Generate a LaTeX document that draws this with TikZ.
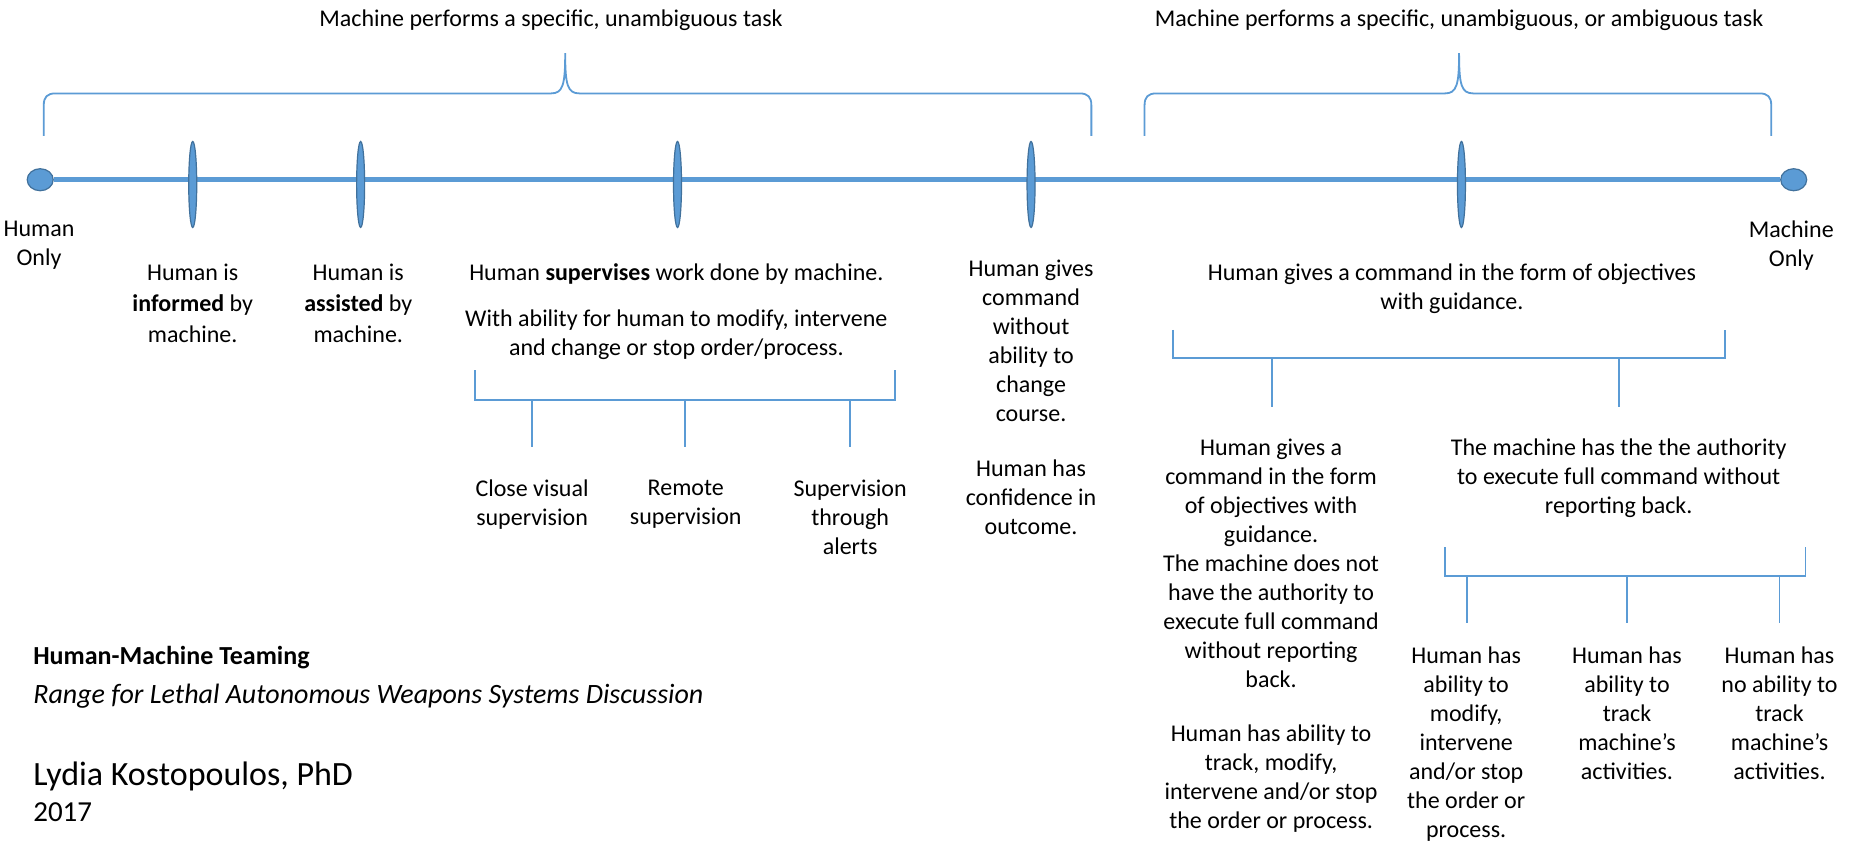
\documentclass[tikz,border=0pt]{standalone}
\usepackage{fontspec}
\setmainfont{Carlito}
\usetikzlibrary{shapes.geometric}
\definecolor{lineblue}{HTML}{5B9BD5}
\definecolor{edgeblue}{HTML}{41719C}
\tikzstyle{timeline} = [draw=lineblue, line width=4.5pt]
\tikzstyle{endpoint} = [ellipse, fill=lineblue, draw=edgeblue, line width=1.2pt, minimum width=26pt, minimum height=22pt, inner sep=0pt]
\tikzstyle{stopmark} = [ellipse, fill=lineblue, draw=edgeblue, line width=1.2pt, minimum width=8pt, minimum height=86pt, inner sep=0pt]
\tikzstyle{bracket} = [draw=lineblue, line width=1.8pt]
\tikzstyle{desc} = [align=center, anchor=north, inner sep=0pt, font=\fontsize{24}{29}\selectfont]
\tikzstyle{credit} = [anchor=base west, inner sep=0pt, font=\fontsize{26}{30}\selectfont]

\begin{document}
\begin{tikzpicture}[x=1.1825pt, y=-1.1825pt]
        \fill[white] (0,0) rectangle (1568,712);
        \useasboundingbox (0,0) rectangle (1568,712);

        % braces over the two ranges
        \node[desc] (tasksimple) at (466,8) {Machine performs a specific, unambiguous task};
        \node[desc] (taskopen) at (1234,8) {Machine performs a specific, unambiguous, or ambiguous task};
        \draw[bracket] (37,115) -- (37,89) .. controls (37,82) and (40,79) .. (47,79) -- (466,79)
            .. controls (476,79) and (478,72) .. (478,45) .. controls (478,72) and (480,79) .. (490,79)
            -- (913,79) .. controls (920,79) and (923,82) .. (923,89) -- (923,115);
        \draw[bracket] (968,115) -- (968,89) .. controls (968,82) and (971,79) .. (978,79) -- (1222,79)
            .. controls (1232,79) and (1234,72) .. (1234,45) .. controls (1234,72) and (1236,79) .. (1246,79)
            -- (1488,79) .. controls (1495,79) and (1498,82) .. (1498,89) -- (1498,115);

        % the range itself
        \node[endpoint] (humanonly) at (34,152) {};
        \node[endpoint] (machineonly) at (1517,152) {};
        \draw[timeline] (humanonly) -- (machineonly);
        \foreach \x/\name in {163/mkinformed, 305/mkassisted, 573/mksupervises, 872/mkcommand, 1236/mkobjectives}
            \node[stopmark] (\name) at (\x,156) {};

        \node[desc] (humanlabel) at (33,187) {Human\\Only};
        \node[desc] (machinelabel) at (1515,187) {Machine\\Only};
        \node[desc] (informed) at (163,223) {Human is\\[2pt] \textbf{informed} by\\[2pt] machine.};
        \node[desc] (assisted) at (303,223) {Human is\\[2pt] \textbf{assisted} by\\[2pt] machine.};

        % supervision
        \node[desc] (supervises) at (572,223) {Human \textbf{supervises} work done by machine.};
        \node[desc] (intervene) at (572,262) {With ability for human to modify, intervene\\and change or stop order/process.};
        \draw[bracket] (402,313) -- (402,338) -- (757,338) -- (757,313);
        \foreach \x in {450,579,719}
            \draw[bracket] (\x,338) -- (\x,378);
        \node[desc] (closevisual) at (450,406) {Close visual\\supervision};
        \node[desc] (remote) at (580,406) {Remote\\supervision};
        \node[desc] (alerts) at (719,406) {Supervision\\through\\alerts};

        \node[desc] (command) at (872,220) {Human gives\\command\\without\\ability to\\change\\course.};
        \node[desc] (confidence) at (872,389) {Human has\\confidence in\\outcome.};

        % objectives with guidance
        \node[desc] (objectives) at (1228,223) {Human gives a command in the form of objectives\\with guidance.};
        \draw[bracket] (992,279) -- (992,303) -- (1459,303) -- (1459,279);
        \foreach \x in {1076,1369}
            \draw[bracket] (\x,303) -- (\x,344);
        \node[desc] (reporting) at (1075,371) {Human gives a\\command in the form\\of objectives with\\guidance.\\The machine does not\\have the authority to\\execute full command\\without reporting\\back.};
        \node[desc] (trackstop) at (1075,613) {Human has ability to\\track, modify,\\intervene and/or stop\\the order or process.};
        \node[desc] (authority) at (1369,371) {The machine has the the authority\\to execute full command without\\reporting back.};
        \draw[bracket] (1222,463) -- (1222,487) -- (1527,487) -- (1527,463);
        \foreach \x in {1241,1376,1505}
            \draw[bracket] (\x,487) -- (\x,527);
        \node[desc] (modify) at (1240,547) {Human has\\ability to\\modify,\\intervene\\and/or stop\\the order or\\process.};
        \node[desc] (track) at (1376,547) {Human has\\ability to\\track\\machine’s\\activities.};
        \node[desc] (notrack) at (1505,547) {Human has\\no ability to\\track\\machine’s\\activities.};

        % title block
        \node[credit] (title) at (28,562) {\textbf{Human-Machine Teaming}};
        \node[credit, font=\fontsize{28}{32}\selectfont] (subtitle) at (28,595) {\textit{Range for Lethal Autonomous Weapons Systems Discussion}};
        \node[credit, font=\fontsize{34}{38}\selectfont] (author) at (28,664) {Lydia Kostopoulos, PhD};
        \node[credit, font=\fontsize{29}{32}\selectfont] (year) at (28,695) {2017};

    \end{tikzpicture}
\end{document}
